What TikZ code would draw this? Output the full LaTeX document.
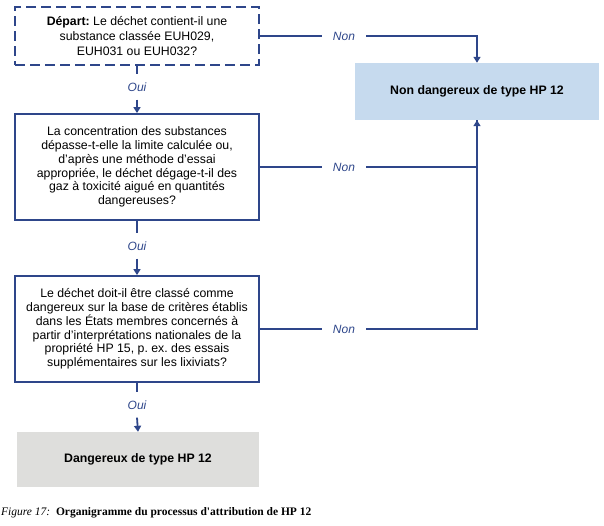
\documentclass[tikz,border=0pt]{standalone}
\usepackage{fontspec}
\setmainfont{Liberation Sans}
\newfontfamily\capfont{Liberation Serif}
\usetikzlibrary{arrows.meta}
\definecolor{dblue}{RGB}{46,70,138}
\definecolor{lblue}{RGB}{198,218,238}
\definecolor{lgrey}{RGB}{222,222,220}
\frenchspacing
\begin{document}
\begin{tikzpicture}[x=1pt,y=-1pt,
  every node/.style={font=\fontsize{12.3}{13.8}\selectfont},
  qbox/.style={draw=dblue,line width=1.8pt,minimum width=244pt,align=center,inner sep=0pt},
  endbox/.style={minimum width=244pt,align=center,font=\fontsize{12.3}{13.8}\selectfont\bfseries},
  lab/.style={text=dblue,font=\fontsize{12}{13}\selectfont\itshape,inner xsep=11pt,inner ysep=0pt},
  vlab/.style={text=dblue,font=\fontsize{12}{13}\selectfont\itshape,inner xsep=0pt,inner ysep=8pt},
  conn/.style={draw=dblue,line width=1.8pt},
  arr/.style={conn,-{Triangle[width=7pt,length=6pt]}}]
\useasboundingbox (0,0) rectangle (604,525);
\node[qbox,dashed,dash pattern=on 10pt off 5pt,minimum height=58pt,font=\fontsize{12.3}{15}\selectfont] (b1) at (137,36)
  {\textbf{Départ:} Le déchet contient-il une\\substance classée EUH029,\\EUH031 ou EUH032?};
\node[qbox,minimum height=106pt] (b2) at (137,167)
  {La concentration des substances\\dépasse-t-elle la limite calculée ou,\\d'après une méthode d'essai\\appropriée, le déchet dégage-t-il des\\gaz à toxicité aigué en quantités\\dangereuses?};
\node[qbox,minimum height=106pt] (b3) at (137,329)
  {Le déchet doit-il être classé comme\\dangereux sur la base de critères établis\\dans les États membres concernés à\\partir d'interprétations nationales de la\\propriété HP 15, p. ex. des essais\\supplémentaires sur les lixiviats?};
\node[endbox,fill=lgrey,minimum width=242pt,minimum height=55pt] (g) at (138,459.5) {Dangereux de type HP 12};
\node[endbox,fill=lblue,minimum height=57pt] (nb) at (477,91.5) {Non dangereux de type HP 12};
% labels
\node[lab] (n1) at (344,36) {Non};
\node[lab] (n2) at (344,167) {Non};
\node[lab] (n3) at (344,329) {Non};
\node[vlab] (o1) at (137,87) {Oui};
\node[vlab] (o2) at (137,246) {Oui};
\node[vlab] (o3) at (137,405) {Oui};
% connectors
\draw[conn] (b1.east) -- (n1.west);
\draw[arr] (n1.east) -| (nb.north);
\draw[conn] (b2.east) -- (n2.west);
\draw[arr] (n2.east) -| (nb.south);
\draw[conn] (b3.east) -- (n3.west);
\draw[conn] (n3.east) -| (nb.south);
\draw[conn] (b1.south) -- (o1.north);
\draw[arr] (o1.south) -- (b2.north);
\draw[conn] (b2.south) -- (o2.north);
\draw[arr] (o2.south) -- (b3.north);
\draw[conn] (b3.south) -- (o3.north);
\draw[arr] (o3.south) -- (g.north);
% caption
\node[anchor=base west,inner sep=0pt,font=\capfont\fontsize{11.5}{13}\selectfont] (cap) at (1,515)
  {\textit{Figure 17:}\ \ \textbf{Organigramme du processus d'attribution de HP 12}};
\end{tikzpicture}
\end{document}
